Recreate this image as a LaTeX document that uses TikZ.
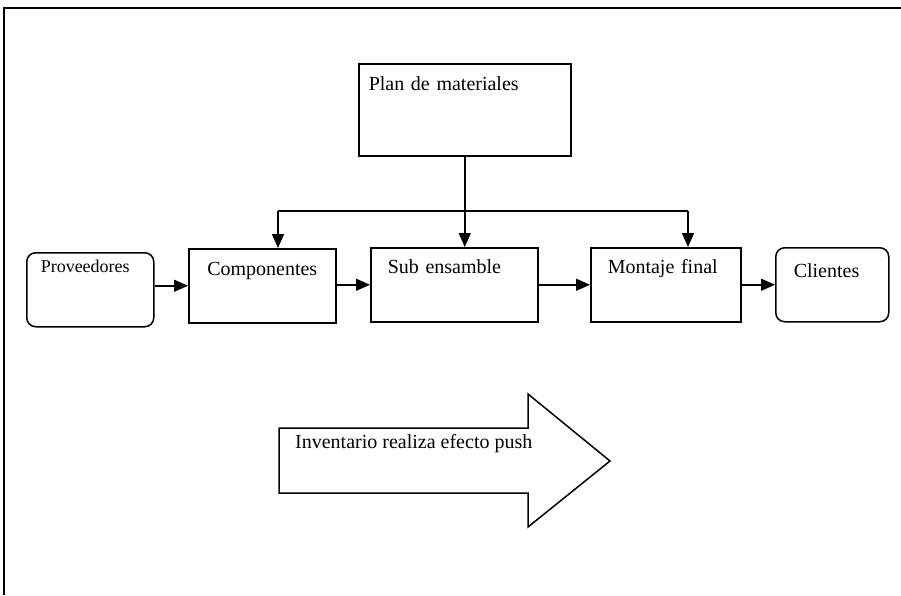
\documentclass[tikz,border=0pt]{standalone}
\usepackage{fontspec}
\setmainfont{Liberation Serif}
\usetikzlibrary{arrows.meta}

\tikzset{
	stage/.style={draw, line width=1.5pt, anchor=north west, inner ysep=0pt,
		text height=26pt, text depth=48pt, align=left},
	endpoint/.style={stage, rounded corners=9pt},
	flow/.style={line width=1.5pt, -{Triangle[length=14pt,width=12pt]}}
}

\begin{document}
\begin{tikzpicture}[x=1pt, y=-1pt, font=\fontsize{20}{23}\selectfont]
	\useasboundingbox (0,0) rectangle (901,595);
	% the frame
	\draw[line width=1.5pt] (4,595) -- (4,8) -- (901,8);

	% the plan
	\node[stage, text width=192pt, inner xsep=10pt, text height=27pt, text depth=65pt] (plan) at (358,63) {Plan de materiales};

	% the chain
	\node[endpoint, text width=99pt, inner xsep=14pt, text height=20pt, text depth=54pt, font=\fontsize{18}{21}\selectfont] (prov) at (26,252) {Proveedores};
	\node[stage, text width=135pt, inner xsep=6pt, align=center, text height=27pt, text depth=47pt] (comp) at (188,248) {Componentes};
	\node[stage, text width=133pt, inner xsep=17pt] (sub) at (370,247) {Sub ensamble};
	\node[stage, text width=116pt, inner xsep=17pt] (mont) at (590,247) {Montaje final};
	\node[endpoint, text width=77pt, inner xsep=18pt, text height=30pt, text depth=44pt] (cli) at (775,247) {Clientes};

	% the distribution from the plan
	\coordinate (left) at (278,211);
	\coordinate (right) at (688,211);
	\draw[line width=1.5pt] (left) -- (right);
	\draw[flow] (plan.south) -- (plan.south |- sub.north);
	\draw[flow] (left) -- (left |- comp.north);
	\draw[flow] (right) -- (right |- mont.north);

	% draw the arrows
	\draw[flow] (prov.east |- comp.west) -- (comp.west);
	\draw[flow] (comp.east |- sub.west) -- (sub.west);
	\draw[flow] (sub.east) -- (mont.west);
	\draw[flow] (mont.east) -- (cli.west);

	% the push arrow
	\draw[line width=1.5pt] (279,428) -- (528,428) -- (528,394) -- (610,461) -- (528,527) -- (528,493) -- (279,493) -- cycle;
	\node[anchor=base west, inner sep=0pt] (push) at (295,448) {Inventario realiza efecto push};
\end{tikzpicture}
\end{document}
